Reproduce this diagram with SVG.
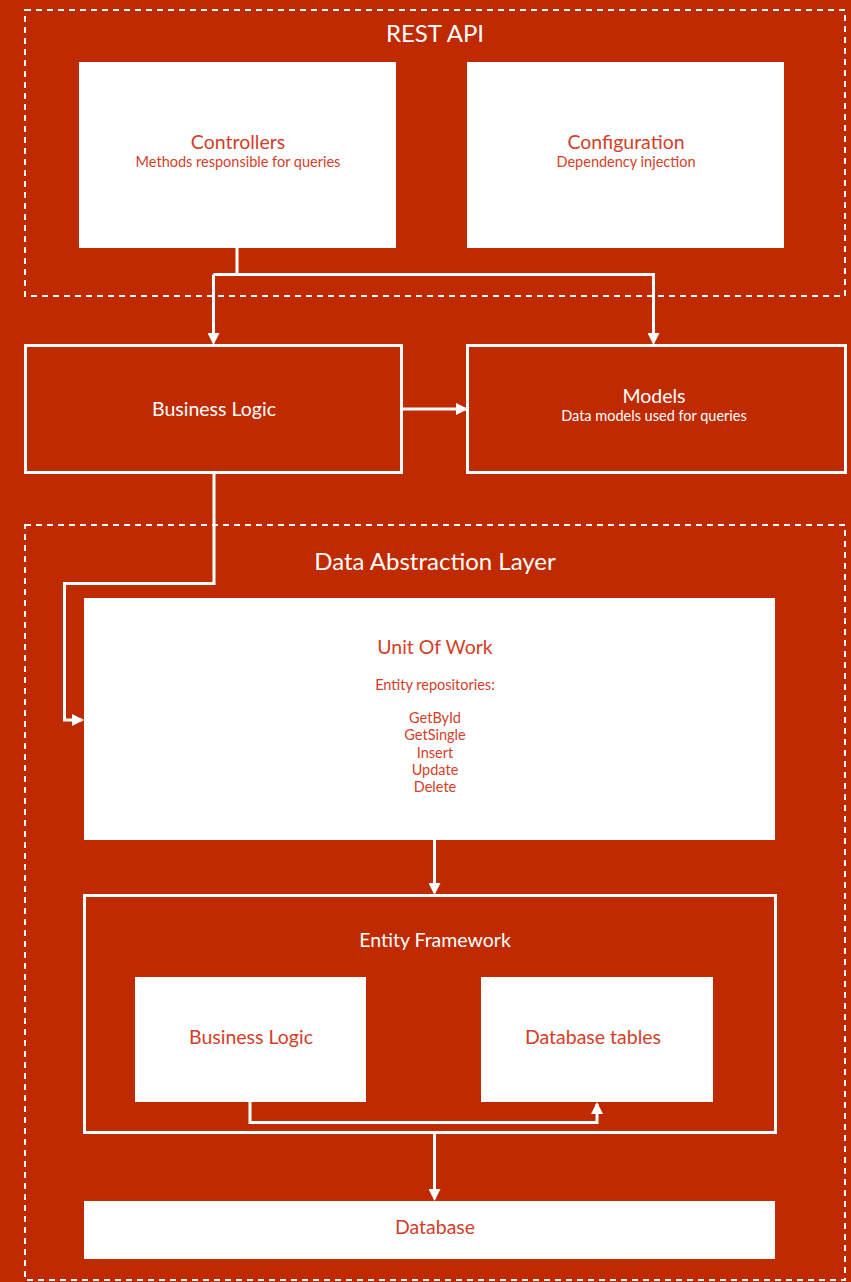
<svg xmlns="http://www.w3.org/2000/svg" width="851" height="1282" viewBox="0 0 851 1282">
<style>
.bg{fill:#bf2a00}
.dash{fill:none;stroke:#fff;stroke-width:2;stroke-dasharray:6 5}
.wbox{fill:#fff}
.obox{fill:none;stroke:#fff;stroke-width:3}
.con{fill:none;stroke:#fff;stroke-width:3}
text{font-family:Lato,"Open Sans","Liberation Sans",sans-serif;text-anchor:middle}
.wt{fill:#fff}
.rt{fill:#d43e28}
.hd{font-size:24px}
.tt{font-size:19.5px}
.st{font-size:14.5px}
</style>
<defs>
<marker id="ah" markerWidth="12" markerHeight="12" refX="10" refY="6" orient="auto" markerUnits="userSpaceOnUse">
<path d="M0,0 L12,6 L0,12 z" fill="#fff"/>
</marker>
</defs>
<rect class="bg" x="0" y="0" width="851" height="1282"/>
<g id="rest-api">
<rect class="dash" x="25" y="10" width="820" height="286"/>
<text class="wt hd" x="435" y="42">REST API</text>
</g>
<g id="data-abstraction-layer">
<rect class="dash" x="25" y="525" width="820" height="755"/>
<text class="wt hd" x="435" y="570">Data Abstraction Layer</text>
</g>
<g id="controllers">
<rect class="wbox" x="79" y="62" width="317" height="186"/>
<text class="rt tt" x="238" y="149">Controllers</text>
<text class="rt st" x="238" y="167">Methods responsible for queries</text>
</g>
<g id="configuration">
<rect class="wbox" x="467" y="62" width="317" height="186"/>
<text class="rt tt" x="626" y="149">Configuration</text>
<text class="rt st" x="626" y="167">Dependency injection</text>
</g>
<g id="business-logic">
<rect class="obox" x="25.5" y="345.5" width="376" height="127"/>
<text class="wt tt" x="214" y="416">Business Logic</text>
</g>
<g id="models">
<rect class="obox" x="467.5" y="345.5" width="378" height="127"/>
<text class="wt tt" x="654" y="403">Models</text>
<text class="wt st" x="654" y="421">Data models used for queries</text>
</g>
<g id="unit-of-work">
<rect class="wbox" x="84" y="598" width="691" height="242"/>
<text class="rt tt" x="435" y="654">Unit Of Work</text>
<text class="rt st" x="435" y="690">Entity repositories:</text>
<text class="rt st" x="435" y="723">GetById</text>
<text class="rt st" x="435" y="740">GetSingle</text>
<text class="rt st" x="435" y="758">Insert</text>
<text class="rt st" x="435" y="775">Update</text>
<text class="rt st" x="435" y="792">Delete</text>
</g>
<g id="entity-framework">
<rect class="obox" x="84.5" y="895.5" width="691" height="237"/>
<text class="wt tt" x="435" y="947">Entity Framework</text>
</g>
<g id="ef-business-logic">
<rect class="wbox" x="135" y="977" width="231" height="125"/>
<text class="rt tt" x="251" y="1044">Business Logic</text>
</g>
<g id="database-tables">
<rect class="wbox" x="481" y="977" width="232" height="125"/>
<text class="rt tt" x="593" y="1044">Database tables</text>
</g>
<g id="database">
<rect class="wbox" x="84" y="1201" width="691" height="58"/>
<text class="rt tt" x="435" y="1234">Database</text>
</g>
<g id="connectors">
<path class="con" d="M237,248 V274.5"/>
<path class="con" d="M213.5,274.5 H653.5 V343" marker-end="url(#ah)"/>
<path class="con" d="M213.5,274.5 V343" marker-end="url(#ah)"/>
<path class="con" d="M401,409 H466" marker-end="url(#ah)"/>
<path class="con" d="M214,473 V583.5 H64.5 V720 H82" marker-end="url(#ah)"/>
<path class="con" d="M434.5,840 V893" marker-end="url(#ah)"/>
<path class="con" d="M250,1102 V1122.5 H597 V1104" marker-end="url(#ah)"/>
<path class="con" d="M434.5,1133 V1199" marker-end="url(#ah)"/>
</g>
</svg>
